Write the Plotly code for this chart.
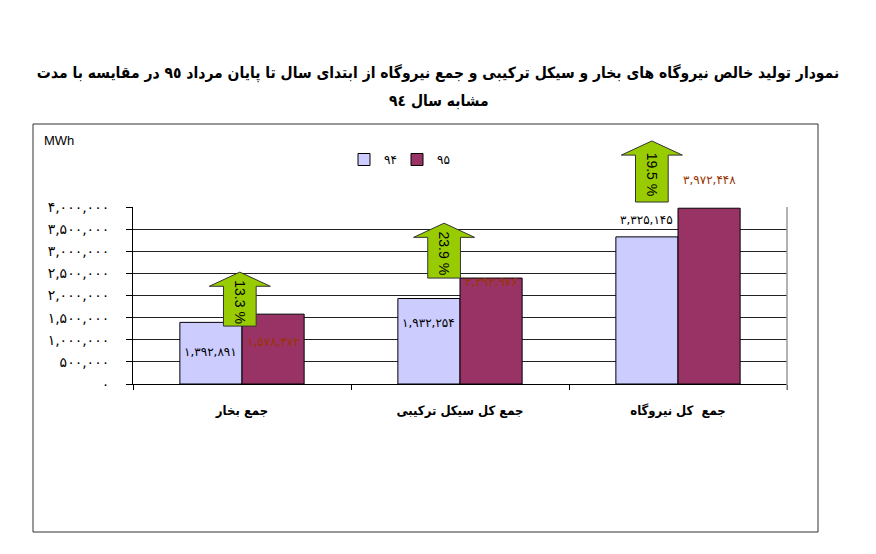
import plotly.graph_objects as go

# data
categories = ["جمع بخار", "جمع کل سیکل ترکیبی", "جمع  کل نیروگاه"]
series_names = ["۹۴", "۹۵"]
values_94 = [1392891, 1932254, 3325145]
values_95 = [1578472, 2393976, 3972448]
y_ticks = [0, 500000, 1000000, 1500000, 2000000, 2500000, 3000000, 3500000, 4000000]

TITLE_1 = "نمودار تولید خالص نیروگاه های بخار و سیکل ترکیبی و جمع نیروگاه از ابتدای سال تا پایان مرداد ٩٥ در مقایسه با مدت"
TITLE_2 = "مشابه سال ٩٤"

COLOR_94 = "#CCCCFF"
COLOR_95 = "#993366"
ARROW_GREEN = "#99CC00"
FONT_FA = "DejaVu Sans"
FONT_FA_NARROW = "DejaVu Sans Condensed, DejaVu Sans"
FONT_LATIN = "Liberation Sans, Arial"

# the page body adds an 8px margin, so the figure is a bit smaller than the window
OFF = 8
W, H = 876 - OFF, 554 - OFF
L, R, T, B = 125, 89, 199, 170
PW, PH = W - L - R, H - T - B
Y_MAX = 4000000
BAR_GAP = 0.43
N = len(categories)

PERSIAN = str.maketrans("0123456789", "۰۱۲۳۴۵۶۷۸۹")


def fa_num(v):
    return f"{v:,}".translate(PERSIAN)


def px(cat_pos):
    # category position (0..N-1, fractional) -> paper x
    return (cat_pos + 0.5) / N


def py(value):
    return value / Y_MAX


def win_x(p):
    # window pixel -> paper x
    return (p - OFF - L) / PW


def win_y(p):
    # window pixel -> paper y
    return ((H - B) - (p - OFF)) / PH


fig = go.Figure()
for name, vals, color in [(series_names[0], values_94, COLOR_94),
                          (series_names[1], values_95, COLOR_95)]:
    fig.add_trace(go.Bar(
        x=categories, y=vals, name=name,
        marker=dict(color=color, line=dict(color="#000000", width=1)),
        hoverinfo="skip",
    ))

half = (1 - BAR_GAP) / 4  # offset of each bar centre from the category centre

# value labels (hand placed in the original, offsets in px)
label_shift_94 = [-30, -25, 17]
label_shift_95 = [-28, -4, 28]
annotations = []
for i in range(N):
    annotations.append(dict(
        x=px(i - half), y=py(values_94[i]), xref="paper", yref="paper",
        xanchor="center", yanchor="middle",
        text=fa_num(values_94[i]), showarrow=False, yshift=label_shift_94[i],
        font=dict(family=FONT_FA, size=12, color="#000000"),
    ))
    annotations.append(dict(
        x=px(i + half), y=py(values_95[i]), xref="paper", yref="paper",
        xanchor="center", yanchor="middle",
        text=fa_num(values_95[i]), showarrow=False, yshift=label_shift_95[i],
        font=dict(family=FONT_FA, size=12, color="#993300"),
    ))

# growth arrows
arrow_dx = [-0.01, -0.073, -0.12]
arrow_base_nudge = [-270000, 0, 140000]
arrow_len = [1220000, 1240000, 1380000]
shaft_hw = 0.075
head_hw = 0.14
head_h = 320000
shapes = []
for i in range(N):
    growth = (values_95[i] / values_94[i] - 1) * 100
    cx = i + arrow_dx[i]
    y0 = values_95[i] + arrow_base_nudge[i]
    y1 = y0 + arrow_len[i]
    yh = y1 - head_h
    pts = [
        (cx - shaft_hw, y0), (cx + shaft_hw, y0), (cx + shaft_hw, yh),
        (cx + head_hw, yh), (cx, y1), (cx - head_hw, yh), (cx - shaft_hw, yh),
    ]
    path = "M " + " L ".join(f"{px(a):.5f},{py(b):.5f}" for a, b in pts) + " Z"
    shapes.append(dict(
        type="path", xref="paper", yref="paper", path=path,
        fillcolor=ARROW_GREEN, line=dict(color="#333333", width=1), layer="above",
    ))
    annotations.append(dict(
        x=px(cx), y=py((y0 + y1) / 2), xref="paper", yref="paper",
        xanchor="center", yanchor="middle", yshift=-3,
        text=f"{growth:.1f} %", showarrow=False, textangle=90,
        font=dict(family=FONT_LATIN, size=14, color="#000000"),
    ))

# outer chart frame and right edge of the plot area
shapes.append(dict(type="rect", xref="paper", yref="paper",
                   x0=win_x(33), x1=win_x(818), y0=win_y(532), y1=win_y(124),
                   line=dict(color="#333333", width=1), layer="below"))
shapes.append(dict(type="line", xref="paper", yref="paper", x0=1, x1=1, y0=win_y(390), y1=1,
                   line=dict(color="#999999", width=1.5)))

annotations.append(dict(x=win_x(42), y=win_y(140), xref="paper", yref="paper",
                        xanchor="left", yanchor="middle", text="MWh", showarrow=False,
                        font=dict(family=FONT_LATIN, size=13, color="#000000")))

# second title line, spaced like the original
annotations.append(dict(x=win_x(439), y=win_y(101), xref="paper", yref="paper",
                        xanchor="center", yanchor="middle", text=TITLE_2, showarrow=False,
                        font=dict(family=FONT_FA_NARROW, size=15.5, color="#000000", weight="bold")))

fig.update_layout(
    width=W, height=H,
    margin=dict(l=L, r=R, t=T, b=B),
    paper_bgcolor="white", plot_bgcolor="white",
    barmode="group", bargap=BAR_GAP, bargroupgap=0,
    title=dict(text=TITLE_1, x=(438 - OFF) / W, xref="container", xanchor="center",
               y=1 - (73 - OFF) / H, yref="container", yanchor="middle",
               font=dict(family=FONT_FA_NARROW, size=15.5, color="#000000", weight="bold")),
    legend=dict(orientation="h", x=win_x(344), y=win_y(145),
                xanchor="left", yanchor="top", font=dict(family=FONT_FA, size=12, color="#000000"),
                entrywidth=8, entrywidthmode="pixels", bgcolor="rgba(0,0,0,0)"),
    xaxis=dict(
        showline=True, linecolor="#000000", linewidth=1,
        ticks="outside", tickson="boundaries", ticklen=5, tickcolor="#000000",
        showgrid=False, ticklabelstandoff=14,
        tickfont=dict(family=FONT_FA_NARROW, size=13, color="#000000", weight="bold"),
    ),
    yaxis=dict(
        range=[0, Y_MAX], tickvals=y_ticks, ticktext=[fa_num(v) for v in y_ticks],
        showline=True, linecolor="#000000", linewidth=1,
        ticks="outside", ticklen=6, tickcolor="#000000",
        showgrid=True, gridcolor="#222222", gridwidth=1,
        ticklabelstandoff=14, zeroline=False,
        tickfont=dict(family=FONT_FA, size=14, color="#000000"),
    ),
    shapes=shapes,
    annotations=annotations,
    showlegend=True,
)

fig.write_html("out.html")
